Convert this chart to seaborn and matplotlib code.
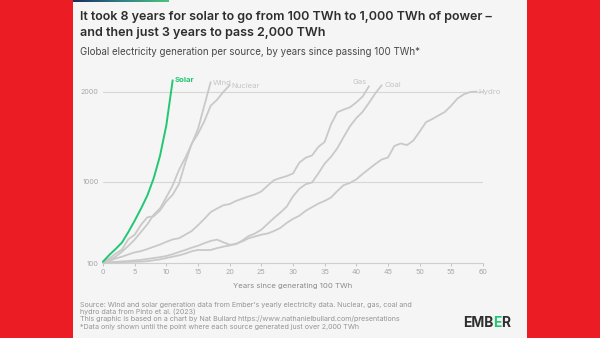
import numpy as np
import pandas as pd
import matplotlib
matplotlib.use("Agg")
import matplotlib.pyplot as plt
import seaborn as sns
from matplotlib.patches import Rectangle
from matplotlib.offsetbox import TextArea, HPacker, AnchoredOffsetbox

# ---------------- data (TWh, by years since passing 100 TWh) ----------------
solar = [115, 190, 256, 328, 444, 570, 704, 850, 1040, 1290, 1630, 2130]
wind = [104, 133, 171, 225, 290, 360, 445, 530, 635, 706, 831, 962, 1134, 1270,
        1420, 1590, 1850, 2110]
nuclear = [111, 153, 203, 250, 364, 414, 524, 608, 619, 684, 785, 859, 979, 1215,
           1425, 1536, 1676, 1847, 1913, 2001, 2075]
gas = [104, 125, 150, 170, 195, 218, 232, 255, 280, 305, 335, 362, 375, 415, 455,
       520, 590, 665, 705, 742, 755, 790, 815, 840, 862, 895, 960, 1020, 1045,
       1065, 1095, 1215, 1270, 1295, 1390, 1445, 1640, 1775, 1805, 1830, 1885,
       1950, 2065]
coal = [104, 108, 112, 118, 122, 128, 135, 145, 155, 165, 178, 198, 222, 245, 270,
        292, 320, 345, 360, 330, 303, 308, 350, 400, 428, 470, 535, 600, 660, 726,
        840, 925, 975, 995, 1095, 1205, 1280, 1375, 1500, 1620, 1710, 1780, 1880,
        1985, 2075]
hydro = [104, 105, 107, 110, 112, 114, 115, 120, 130, 140, 155, 170, 185, 205, 230,
         245, 243, 245, 265, 282, 295, 315, 340, 375, 395, 415, 428, 455, 490, 545,
         590, 625, 680, 720, 760, 790, 828, 900, 965, 990, 1030, 1090, 1145, 1200,
         1250, 1272, 1400, 1428, 1410, 1460, 1560, 1665, 1700, 1740, 1780, 1850,
         1930, 1975, 2000, 2005]
sources = ["Solar", "Wind", "Nuclear", "Gas", "Coal", "Hydro"]
series = [solar, wind, nuclear, gas, coal, hydro]
x_ticks = list(range(0, 61, 5))
y_ticks = [100, 1000, 2000]

title1 = "It took 8 years for solar to go from 100 TWh to 1,000 TWh of power \u2013"
title2 = "and then just 3 years to pass 2,000 TWh"
subtitle = "Global electricity generation per source, by years since passing 100 TWh*"
xlabel = "Years since generating 100 TWh"
source_lines = [
    "Source: Wind and solar generation data from Ember's yearly electricity data. Nuclear, gas, coal and",
    "hydro data from Pinto et al. (2023)",
    "This graphic is based on a chart by Nat Bullard https://www.nathanielbullard.com/presentations",
    "*Data only shown until the point where each source generated just over 2,000 TWh",
]

rows = []
for name, vals in zip(sources, series):
    for i, v in enumerate(vals):
        rows.append({"source": name, "year": i, "twh": v})
df = pd.DataFrame(rows)

# ---------------- styling ----------------
sns.set_theme(style="white")
plt.rcParams["font.family"] = ["Inter", "DejaVu Sans"]

W, H = 600, 338
GREEN = "#22c774"
GREY = "#c9c9c9"
fig = plt.figure(figsize=(6, 3.38), dpi=100)
fig.patch.set_facecolor("#ec1c24")
fig.patches.append(Rectangle((73 / W, 0), (527 - 73) / W, 1, transform=fig.transFigure,
                             facecolor="#f5f5f5", edgecolor="none", zorder=-10))

# gradient bar top-left
gax = fig.add_axes([73 / W, 1 - 2.2 / H, (169 - 73) / W, 2.2 / H])
grad = np.linspace(0, 1, 256).reshape(1, -1)
cmap = matplotlib.colors.LinearSegmentedColormap.from_list("g", ["#1c2b5e", "#2f7f86", "#4cc47a"])
gax.imshow(grad, aspect="auto", cmap=cmap)
gax.set_axis_off()

# plot axes: x 0..60 -> px 103..483; y 100 at px 263, 0.09 px/TWh
ytop = 2250
top_px = 263 - (ytop - 100) * 0.09
ax = fig.add_axes([103 / W, 1 - 263 / H, (483 - 103) / W, (263 - top_px) / H])
ax.set_facecolor("none")

palette = {s: GREY for s in sources}
palette["Solar"] = GREEN
sns.lineplot(data=df[df.source != "Solar"], x="year", y="twh", hue="source",
             palette=palette, estimator=None, legend=False, lw=1.3, ax=ax,
             clip_on=False, zorder=3)
sns.lineplot(data=df[df.source == "Solar"], x="year", y="twh", color=GREEN,
             estimator=None, legend=False, lw=1.4, ax=ax, clip_on=False, zorder=4)

ax.set_xlim(0, 60)
ax.set_ylim(100, ytop)
ax.set_xticks(x_ticks)
ax.set_yticks(y_ticks)
ax.set_xticklabels([str(t) for t in x_ticks])
ax.set_yticklabels([str(t) for t in y_ticks])
for s in ["top", "right", "left"]:
    ax.spines[s].set_visible(False)
ax.spines["bottom"].set_color("#cfcfcf")
ax.spines["bottom"].set_linewidth(0.8)
ax.tick_params(axis="x", length=2.5, width=0.6, color="#bbbbbb", labelsize=5.2,
               labelcolor="#a8a8a8", pad=1.5, bottom=True)
ax.tick_params(axis="y", length=0, labelsize=5.2, labelcolor="#a8a8a8", pad=3)
for yv in y_ticks[1:]:
    ax.axhline(yv, color="#d6d6d6", lw=0.8, zorder=1)
ax.set_xlabel(xlabel, fontsize=5.6, color="#8a8a8a", labelpad=6)
ax.set_ylabel("")

# end labels
offsets = {
    "Solar": (1.6, 0.5, "left", GREEN, "bold"),
    "Wind": (1.5, -1.0, "left", "#c4c4c4", "normal"),
    "Nuclear": (1.5, -0.7, "left", "#c4c4c4", "normal"),
    "Gas": (-7.0, 3.0, "center", "#c4c4c4", "normal"),
    "Coal": (2.2, 0.0, "left", "#c4c4c4", "normal"),
    "Hydro": (1.0, 0.0, "left", "#c4c4c4", "normal"),
}
for name, vals in zip(sources, series):
    dx, dy, ha, col, wt = offsets[name]
    ax.annotate(name, xy=(len(vals) - 1, vals[-1]), xytext=(dx, dy),
                textcoords="offset points", ha=ha, va="center", fontsize=5.6,
                color=col, fontweight=wt, annotation_clip=False)

# titles
fig.text(80.5 / W, 1 - 16.7 / H, title1, fontsize=9.05, fontweight="semibold",
         color="#2e2e2e", va="center", ha="left")
fig.text(80.5 / W, 1 - 33.3 / H, title2, fontsize=9.05, fontweight="semibold",
         color="#2e2e2e", va="center", ha="left")
fig.text(80.5 / W, 1 - 52 / H, subtitle, fontsize=7.0, color="#474747",
         va="center", ha="left")

# source
for i, (line, yy) in enumerate(zip(source_lines, [305, 312, 319, 326.5])):
    fig.text(80.5 / W, 1 - yy / H, line, fontsize=5.15, color="#959595",
             va="center", ha="left")

# logo
parts = [TextArea(t, textprops=dict(fontsize=10, fontweight="bold", color=c))
         for t, c in [("EMB", "#2f2f2f"), ("E", GREEN), ("R", "#2f2f2f")]]
box = HPacker(children=parts, align="center", pad=0, sep=0)
ab = AnchoredOffsetbox(loc="center", child=box, frameon=False,
                       bbox_to_anchor=(486.5 / W, 1 - 323 / H),
                       bbox_transform=fig.transFigure, pad=0, borderpad=0)
fig.add_artist(ab)

fig.savefig("out.png", dpi=100, facecolor=fig.get_facecolor())
